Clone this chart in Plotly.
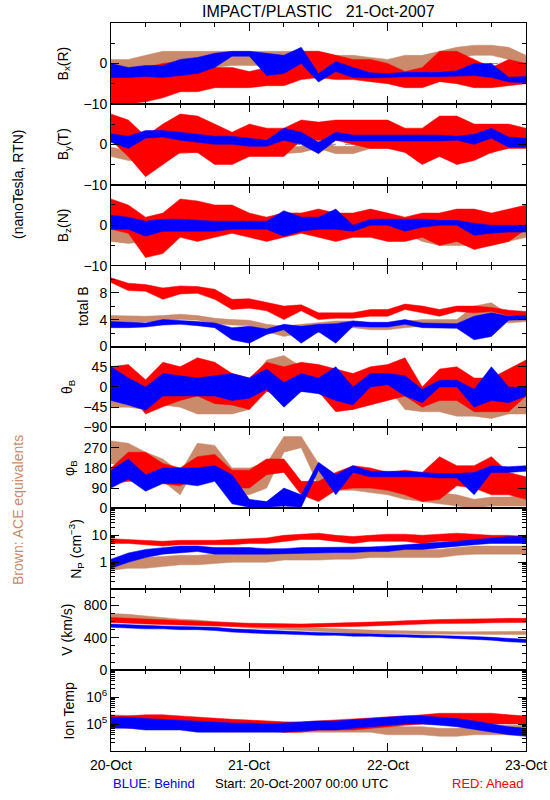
import plotly.graph_objects as go
from plotly.subplots import make_subplots

# ---------------- data (3-hour steps from 20-Oct-2007 00:00 UTC) ----------------
hours = [0, 3, 6, 9, 12, 15, 18, 21, 24, 27, 30, 33, 36, 39, 42, 45, 48, 51, 54, 57, 60, 63, 66, 69, 72]
day_ticks = [0, 24, 48, 72]
day_labels = ["20-Oct", "21-Oct", "22-Oct", "23-Oct"]

# Bx (R), nT
bx_blue_lo = [-3.5, -3.5, -3.2, -3.5, -3.0, -2.5, -1.0, 1.8, 1.8, -3.0, -2.5, 0.0, -4.6, -2.0, -3.5, -3.6, -3.5, -3.3, -3.3, -3.3, -3.2, -3.0, -3.5, -4.6, -4.8]
bx_blue_hi = [0.0, -1.0, -0.5, -0.5, 1.0, 1.5, 2.5, 3.0, 3.0, 2.5, 2.0, 4.0, -2.5, 0.5, -1.0, -2.3, -2.5, -2.2, -2.2, -2.2, -1.8, 0.0, 0.0, -3.4, -3.2]
bx_red_lo = [-10, -10, -9.5, -8.5, -7, -7, -6, -6, -6, -5.5, -5.5, -4, -3.5, -4, -4, -4.5, -5, -6, -6, -4.5, -5, -6, -6, -5.5, -5]
bx_red_hi = [-2, -3, -1, 0, 0.5, 1, -1, -1, -2, -1, 0, 3, 3, 2, 1, 1, 0, -2, -1, 3, 3, 1, -1, 1, 0]
bx_brown_lo = [-3, -2, -1, -1, -1, -1, -1, -0.5, -0.5, -0.5, -1, -1, -1, -1.5, -1.5, -2, -2, -2, -1, 0, 1.5, 2, 2, 1, -1]
bx_brown_hi = [1, 1, 2, 3, 3, 3, 3, 3, 3, 3, 3, 3, 3, 2, 2, 1.5, 1, 2, 2, 3, 4, 4.5, 4.5, 4, 2]

# By (T), nT
by_blue_lo = [0.5, -1, 1.5, 1.8, 1, 0.5, 0, 0, -0.5, -0.5, 1, 0, -2.3, 1, 0.8, 0.8, 0.8, 0.8, 0.8, 0.8, 1, 0, 1.5, -0.7, -0.7]
by_blue_hi = [2.6, 2, 3.4, 3.4, 3, 2.5, 2, 2, 1.5, 1, 4, 3, 0.5, 3, 2.3, 2.3, 2.3, 2.3, 2.3, 2.3, 2, 2.5, 4, 1.8, 1.5]
by_red_lo = [1, -3, -8, -5, -2, -2, -5, -5, -3, -3, -3, 1, 1, 1, 0, -1, -1, -2, -5, -3, -5, -4, -2, -1, -1]
by_red_hi = [7.5, 6, 2, 5, 7.5, 7, 5, 3, 5, 4, 4, 6, 5.5, 6, 6, 6, 6, 4, 4, 7, 7, 5, 5, 5, 4]
by_brown_lo = [-3, -4, -4, -2.3, -2.3, -2, -2, -2, -2, -2, -2.3, -2, -1, -2.3, -2.3, -1, -1, -1, -1, 1, 1, 0, -2.3, 0, 0]
by_brown_hi = [-0.7, -1.5, -1.5, 2.6, 2.6, 1, 1, 1, 1, 1, -0.7, -0.5, 1, -0.5, -0.5, 1, 1, 1, 1.5, 4, 4, 2, 0, 3, 3]

# Bz (N), nT
bz_blue_lo = [-1, -1, -2.7, -1.5, -1.5, -1.5, -1.5, -1, -1, -1, -2.7, -1.5, -1, -1, -1.5, 0, 0, -1.5, -0.5, 0, 0, -2.5, -2, -1.7, -1.7]
bz_blue_hi = [2.5, 2, 1, 1.5, 1.5, 1.2, 1, 1, 1, 1, 3.6, 2, 2, 4, 0, 1.5, 1.5, 1.5, 1.5, 1.2, 1.2, 0.5, 0, 0, 0]
bz_red_lo = [-1, -2, -8, -7, -3, -4, -3, -2, -3, -4, -3, -2, -3, -4, -3, -3, -4, -4, -3, -5, -4, -6, -5, -4, -1]
bz_red_hi = [6.5, 5, 2, 3, 6.5, 6, 5, 5, 3, 2, 3, 3, 4, 3, 3, 4, 3, 2, 3, 3, 4, 4, 3, 4, 5]
bz_brown_lo = [-4, -4.5, -4, -1.5, -1.5, -1.5, -1.5, -1.5, -1.5, -1.5, -0.5, -0.5, -2, -2.5, -2.5, -2, -2, -2, -4, -5, -5, -5, -5, -4, -3]
bz_brown_hi = [0, 0, 0, 2, 2, 2, 2, 2, 2, 2, 3, 3, 1, 0, 0, 1, 1, 1, 0, -1, -1, -1, 0, 0, 0]

# total B, nT
tb_blue_lo = [2.8, 2.8, 2.9, 3.2, 3.3, 3.1, 2.8, 1.0, 0.5, 1.8, 2.5, 0.5, 2.2, 0.5, 3.0, 2.9, 2.9, 3.3, 2.8, 2.8, 2.7, 1.0, 1.5, 3.9, 4.0]
tb_blue_hi = [3.7, 3.6, 3.5, 4.0, 3.9, 3.7, 3.5, 2.8, 3.0, 2.6, 3.3, 3.0, 3.3, 3.4, 3.8, 3.6, 3.6, 4.0, 3.5, 3.5, 3.4, 4.5, 5.0, 4.5, 4.6]
tb_red_lo = [9.5, 8.3, 8.2, 7.0, 7.8, 7.9, 7.0, 5.5, 5.7, 5.3, 4.0, 5.3, 4.0, 4.2, 4.2, 4.5, 4.5, 5.5, 5.0, 4.5, 5.2, 5.0, 5.2, 4.6, 4.4]
tb_red_hi = [10.2, 9.4, 9.2, 8.7, 9.0, 8.9, 8.5, 7.0, 7.1, 6.5, 6.0, 6.2, 5.0, 5.0, 5.0, 5.5, 5.5, 6.3, 6.0, 5.5, 6.0, 6.0, 5.8, 5.4, 5.2]
tb_brown_lo = [3.6, 3.5, 3.7, 3.8, 4.0, 3.9, 3.4, 3.2, 3.1, 2.2, 1.5, 2.0, 2.0, 2.8, 2.8, 2.5, 2.5, 2.8, 3.0, 3.0, 3.0, 4.0, 4.0, 3.5, 3.7]
tb_brown_hi = [4.6, 4.5, 4.5, 4.6, 4.8, 4.6, 4.2, 4.0, 3.9, 3.3, 3.0, 3.3, 3.5, 3.8, 3.8, 3.5, 3.5, 3.8, 4.0, 4.0, 4.0, 6.0, 6.5, 4.8, 4.8]

# theta_B, degrees
th_blue_lo = [-30, -40, -52, -20, -20, -20, -20, -30, -25, -5, -45, -10, -15, -30, -40, 0, 5, -20, -35, 0, 0, -45, -30, -35, -20]
th_blue_hi = [45, 20, 0, 30, 25, 20, 25, 30, 20, 40, 10, 30, 20, 45, 0, 30, 30, 25, -5, 15, 15, -5, 45, 0, 0]
th_red_lo = [-20, -10, -60, -44, -30, -20, -37, -40, -50, -10, -20, -10, -10, -55, -50, -40, -30, -20, -45, -30, -30, -55, -55, -55, -20]
th_red_hi = [45, 50, 16, 55, 45, 65, 55, 30, 20, 55, 45, 55, 50, 40, 30, 45, 50, 65, 0, 40, 45, 20, 20, 40, 60]
th_brown_lo = [-45, -45, -50, -40, -45, -60, -60, -60, -50, 20, 25, 0, -10, -50, -50, 0, 0, -50, -55, -55, -65, -65, -70, -60, -60]
th_brown_hi = [20, 20, 10, 20, 15, 0, 0, 0, 10, 60, 70, 45, 45, 10, 10, 30, 35, 0, -5, -5, -15, -20, -10, 0, 0]

# phi_B, degrees
ph_blue_lo = [90, 130, 76, 110, 110, 100, 120, 20, 5, 5, 10, 5, 170, 60, 160, 140, 140, 140, 140, 135, 135, 60, 160, 160, 165]
ph_blue_hi = [170, 220, 150, 180, 180, 180, 190, 150, 40, 30, 90, 60, 205, 150, 190, 165, 165, 165, 160, 155, 155, 160, 190, 185, 190]
ph_red_lo = [110, 120, 120, 110, 100, 140, 150, 90, 90, 150, 160, 60, 30, 80, 90, 90, 80, 60, 30, 40, 100, 90, 60, 60, 40]
ph_red_hi = [180, 250, 250, 200, 180, 230, 240, 170, 170, 220, 220, 120, 120, 160, 190, 180, 160, 170, 160, 230, 190, 190, 230, 160, 140]
ph_brown_lo = [200, 180, 150, 120, 60, 200, 190, 60, 60, 90, 250, 270, 100, 80, 80, 70, 60, 40, 30, 20, 10, 0, 10, 10, 10]
ph_brown_hi = [300, 290, 250, 220, 160, 290, 280, 180, 180, 200, 320, 320, 200, 150, 140, 140, 120, 100, 90, 70, 60, 40, 50, 50, 60]

# proton density, cm^-3
np_blue_lo = [0.6, 1.0, 1.5, 2.0, 2.2, 2.5, 2.0, 2.0, 2.0, 2.0, 2.0, 2.2, 2.2, 2.3, 2.3, 2.5, 2.5, 3.0, 3.0, 3.5, 4.0, 4.5, 5.0, 5.0, 5.0]
np_blue_hi = [1.3, 2.2, 3.0, 3.5, 4.0, 4.0, 3.5, 3.5, 3.5, 3.2, 3.2, 3.5, 3.5, 3.5, 3.5, 3.7, 4.0, 4.5, 5.0, 5.5, 6.0, 7.0, 8.0, 9.0, 9.0]
np_red_lo = [5, 5, 4.5, 4, 4.5, 4.5, 4.5, 4.5, 5, 5, 6, 7, 7, 6, 5, 6, 6, 6, 5, 6, 6, 6, 6, 6, 5]
np_red_hi = [7.5, 7, 6.5, 6, 6.5, 6.5, 6.5, 7, 7.5, 8, 10, 11, 12, 10, 9, 10, 11, 11, 10, 11, 12, 11, 10, 10, 9]
np_brown_lo = [0.5, 0.6, 0.6, 0.7, 0.8, 0.8, 0.9, 1.0, 1.0, 1.0, 1.2, 1.2, 1.2, 1.3, 1.3, 1.5, 1.5, 1.5, 1.5, 1.5, 1.8, 2.0, 2.0, 2.0, 2.0]
np_brown_hi = [1.2, 1.5, 1.5, 1.6, 1.8, 1.8, 2.0, 2.0, 2.2, 2.2, 2.5, 2.5, 2.5, 2.8, 2.8, 3.0, 3.0, 3.0, 3.0, 3.0, 3.5, 4.0, 4.0, 4.0, 4.0]

# bulk speed, km/s
v_blue_lo = [530, 520, 510, 510, 500, 500, 490, 470, 460, 450, 445, 440, 430, 430, 420, 420, 410, 410, 400, 400, 390, 380, 370, 350, 340]
v_blue_hi = [570, 560, 550, 545, 540, 535, 530, 510, 500, 490, 480, 475, 465, 460, 455, 450, 445, 440, 435, 430, 425, 415, 405, 390, 380]
v_red_lo = [590, 580, 570, 560, 560, 550, 545, 540, 535, 530, 530, 530, 530, 535, 540, 545, 550, 560, 570, 575, 580, 580, 585, 590, 590]
v_red_hi = [650, 640, 630, 620, 610, 600, 590, 585, 580, 575, 570, 570, 575, 580, 585, 590, 600, 610, 620, 625, 630, 630, 635, 640, 640]
v_brown_lo = [640, 630, 610, 600, 580, 570, 560, 540, 520, 510, 500, 490, 480, 470, 460, 455, 450, 450, 445, 445, 440, 440, 440, 440, 440]
v_brown_hi = [700, 690, 670, 650, 630, 620, 600, 590, 570, 550, 540, 530, 520, 510, 500, 495, 490, 485, 480, 480, 475, 475, 475, 475, 480]

# ion temperature, K
tp_blue_lo = [7e4, 7e4, 6e4, 6e4, 6e4, 5e4, 5e4, 5e4, 5e4, 5e4, 5e4, 5.5e4, 6e4, 6e4, 7e4, 8e4, 9e4, 1e5, 1e5, 9e4, 8e4, 6e4, 5e4, 4e4, 3.5e4]
tp_blue_hi = [1.8e5, 1.8e5, 1.6e5, 1.5e5, 1.4e5, 1.3e5, 1.2e5, 1.1e5, 1.1e5, 1e5, 1.1e5, 1.2e5, 1.3e5, 1.3e5, 1.4e5, 1.6e5, 1.8e5, 2e5, 2e5, 1.8e5, 1.6e5, 1.3e5, 1e5, 8e4, 7e4]
tp_red_lo = [8e4, 7e4, 8e4, 9e4, 9e4, 8e4, 7e4, 6e4, 6e4, 5.5e4, 5e4, 5e4, 6e4, 6e4, 6e4, 7e4, 8e4, 9e4, 1e5, 1e5, 1e5, 1e5, 1e5, 1e5, 1e5]
tp_red_hi = [2e5, 2e5, 2.2e5, 2.2e5, 2e5, 1.8e5, 1.6e5, 1.5e5, 1.4e5, 1.3e5, 1.2e5, 1.2e5, 1.3e5, 1.4e5, 1.5e5, 1.6e5, 1.8e5, 2e5, 2.2e5, 2.5e5, 2.5e5, 2.5e5, 2.5e5, 2.2e5, 2e5]
tp_brown_lo = [1.2e5, 1.1e5, 1e5, 1e5, 9e4, 8e4, 7e4, 7e4, 6e4, 6e4, 5e4, 5e4, 5e4, 5e4, 5e4, 5e4, 4e4, 4e4, 4e4, 3.5e4, 3.5e4, 4e4, 4e4, 4e4, 4e4]
tp_brown_hi = [2.2e5, 2.1e5, 2e5, 2e5, 1.8e5, 1.6e5, 1.5e5, 1.4e5, 1.3e5, 1.3e5, 1.2e5, 1.1e5, 1.1e5, 1.1e5, 1e5, 1e5, 9e4, 8e4, 8e4, 7e4, 7e4, 8e4, 8e4, 9e4, 9e4]

# ---------------- figure ----------------
BLUE = "#0000ff"
RED = "#ff0000"
BROWN = "#c98b6b"
FONT = "Liberation Sans"

W, H = 550, 800
L, R, T, B = 111, 24, 23, 49
PW, PH = W - L - R, H - T - B

panels = [
    dict(series=[(bx_brown_lo, bx_brown_hi), (bx_red_lo, bx_red_hi), (bx_blue_lo, bx_blue_hi)],
         rng=[-10, 10], tv=[-10, 0], tt=["\u221210", "0"], minor=5, log=False, zero=True,
         title="B<sub>x</sub>(R)", tx=64),
    dict(series=[(by_brown_lo, by_brown_hi), (by_red_lo, by_red_hi), (by_blue_lo, by_blue_hi)],
         rng=[-10, 10], tv=[-10, 0], tt=["\u221210", "0"], minor=5, log=False, zero=True,
         title="B<sub>y</sub>(T)", tx=64),
    dict(series=[(bz_brown_lo, bz_brown_hi), (bz_red_lo, bz_red_hi), (bz_blue_lo, bz_blue_hi)],
         rng=[-10, 10], tv=[-10, 0], tt=["\u221210", "0"], minor=5, log=False, zero=True,
         title="B<sub>z</sub>(N)", tx=64),
    dict(series=[(tb_brown_lo, tb_brown_hi), (tb_red_lo, tb_red_hi), (tb_blue_lo, tb_blue_hi)],
         rng=[0, 12], tv=[0, 4, 8], tt=["0", "4", "8"], minor=2, log=False, zero=False,
         title="total B", tx=83),
    dict(series=[(th_brown_lo, th_brown_hi), (th_red_lo, th_red_hi), (th_blue_lo, th_blue_hi)],
         rng=[-90, 90], tv=[-90, -45, 0, 45], tt=["\u221290", "\u221245", "0", "45"], minor=None, log=False, zero=False,
         title="\u03b8<sub>B</sub>", tx=68),
    dict(series=[(ph_brown_lo, ph_brown_hi), (ph_red_lo, ph_red_hi), (ph_blue_lo, ph_blue_hi)],
         rng=[0, 360], tv=[0, 90, 180, 270], tt=["0", "90", "180", "270"], minor=None, log=False, zero=False,
         title="\u03c6<sub>B</sub>", tx=70),
    dict(series=[(np_brown_lo, np_brown_hi), (np_red_lo, np_red_hi), (np_blue_lo, np_blue_hi)],
         rng=[-1, 2], tv=[1, 10], tt=["1", "10"], minor="log", log=True, zero=False,
         title="N<sub>P</sub> (cm<sup>\u22123</sup>)", tx=76),
    dict(series=[(v_brown_lo, v_brown_hi), (v_red_lo, v_red_hi), (v_blue_lo, v_blue_hi)],
         rng=[0, 1000], tv=[0, 400, 800], tt=["0", "400", "800"], minor=100, log=False, zero=False,
         title="V (km/s)", tx=67),
    dict(series=[(tp_brown_lo, tp_brown_hi), (tp_red_lo, tp_red_hi), (tp_blue_lo, tp_blue_hi)],
         rng=[4, 7], tv=[1e5, 1e6], tt=["10<sup>5</sup>", "10<sup>6</sup>"], minor="log", log=True, zero=False,
         title="Ion Temp", tx=69),
]

n = len(panels)
fig = make_subplots(rows=n, cols=1, shared_xaxes=True, vertical_spacing=0)

colors = [BROWN, RED, BLUE]
for i, p in enumerate(panels, start=1):
    for (lo, hi), c in zip(p["series"], colors):
        fig.add_trace(go.Scatter(
            x=hours + hours[::-1], y=hi + lo[::-1], mode="lines",
            fill="toself", fillcolor=c, line=dict(color=c, width=0.5),
            hoverinfo="skip", showlegend=False), row=i, col=1)

    yk = dict(range=p["rng"], tickmode="array", tickvals=p["tv"], ticktext=p["tt"],
              ticks="inside", ticklen=8, tickwidth=1, tickcolor="black",
              showline=True, linecolor="black", linewidth=1, mirror="ticks",
              showgrid=False, zeroline=False,
              tickfont=dict(family=FONT, size=14, color="black"))
    if p["log"]:
        yk["type"] = "log"
        lo_e, hi_e = p["rng"]
        mv = [m * 10 ** e for e in range(int(lo_e), int(hi_e)) for m in range(2, 10)]
        yk["minor"] = dict(tickmode="array", tickvals=mv, ticks="inside", ticklen=4, tickcolor="black")
    elif p["minor"] is not None:
        yk["minor"] = dict(dtick=p["minor"], ticks="inside", ticklen=4, tickcolor="black")
    fig.update_yaxes(**yk, row=i, col=1)

    fig.update_xaxes(range=[0, 72], tickmode="array", tickvals=day_ticks,
                     showticklabels=False,
                     ticks="inside", ticklen=8, tickcolor="black",
                     minor=dict(dtick=6, ticks="inside", ticklen=4, tickcolor="black"),
                     showline=True, linecolor="black", linewidth=1, mirror="ticks",
                     showgrid=False, zeroline=False,
                     row=i, col=1)

    if p["zero"]:
        ax = "" if i == 1 else str(i)
        fig.add_shape(type="line", xref="x" + ax, yref="y" + ax, x0=0, x1=72, y0=0, y1=0,
                      line=dict(color="#909090", width=1, dash="dash"), layer="below")

    # y-axis title
    pc = T + (i - 0.5) * PH / n
    fig.add_annotation(x=(p["tx"] - L) / PW, y=(H - B - pc) / PH, xref="paper", yref="paper",
                       text=p["title"], textangle=-90, showarrow=False,
                       xanchor="center", yanchor="middle",
                       font=dict(family=FONT, size=14, color="black"))

def px_x(px):
    return (px - L) / PW

def px_y(py):
    return (H - B - py) / PH

# date labels under the bottom axis
bottom_x = "x" + str(n)
for k, (tv, lab) in enumerate(zip(day_ticks, day_labels)):
    last = k == len(day_ticks) - 1
    fig.add_annotation(x=tv, xref=bottom_x, y=px_y(765), yref="paper",
                       text=lab, showarrow=False,
                       xanchor="right" if last else "center", xshift=23 if last else 0,
                       yanchor="middle", font=dict(family=FONT, size=14, color="black"))

fig.add_annotation(x=0.5, y=px_y(11), xref="paper", yref="paper", showarrow=False,
                   text="IMPACT/PLASTIC   21-Oct-2007", xanchor="center", yanchor="middle",
                   font=dict(family=FONT, size=16, color="black"))
fig.add_annotation(x=px_x(18), y=px_y(185), xref="paper", yref="paper", showarrow=False,
                   text="(nanoTesla, RTN)", textangle=-90, xanchor="center", yanchor="middle",
                   font=dict(family=FONT, size=14, color="black"))
fig.add_annotation(x=px_x(18), y=px_y(510), xref="paper", yref="paper", showarrow=False,
                   text="Brown: ACE equivalents", textangle=-90, xanchor="center", yanchor="middle",
                   font=dict(family=FONT, size=14, color=BROWN))
fig.add_annotation(x=px_x(111), y=px_y(783), xref="paper", yref="paper", showarrow=False,
                   text="BLUE: Behind", xanchor="left", yanchor="middle",
                   font=dict(family=FONT, size=13, color=BLUE))
fig.add_annotation(x=px_x(213), y=px_y(783), xref="paper", yref="paper", showarrow=False,
                   text="Start: 20-Oct-2007 00:00 UTC", xanchor="left", yanchor="middle",
                   font=dict(family=FONT, size=13, color="black"))
fig.add_annotation(x=px_x(526), y=px_y(783), xref="paper", yref="paper", showarrow=False,
                   text="RED: Ahead", xanchor="right", yanchor="middle",
                   font=dict(family=FONT, size=13, color=RED))

fig.update_layout(width=W, height=H, margin=dict(l=L, r=R, t=T, b=B, autoexpand=False),
                  paper_bgcolor="white", plot_bgcolor="white", showlegend=False,
                  font=dict(family=FONT, size=14, color="black"))

fig.write_html("out.html", config={"displayModeBar": False},
               post_script="document.body.style.margin='0';document.body.style.overflow='hidden';")
